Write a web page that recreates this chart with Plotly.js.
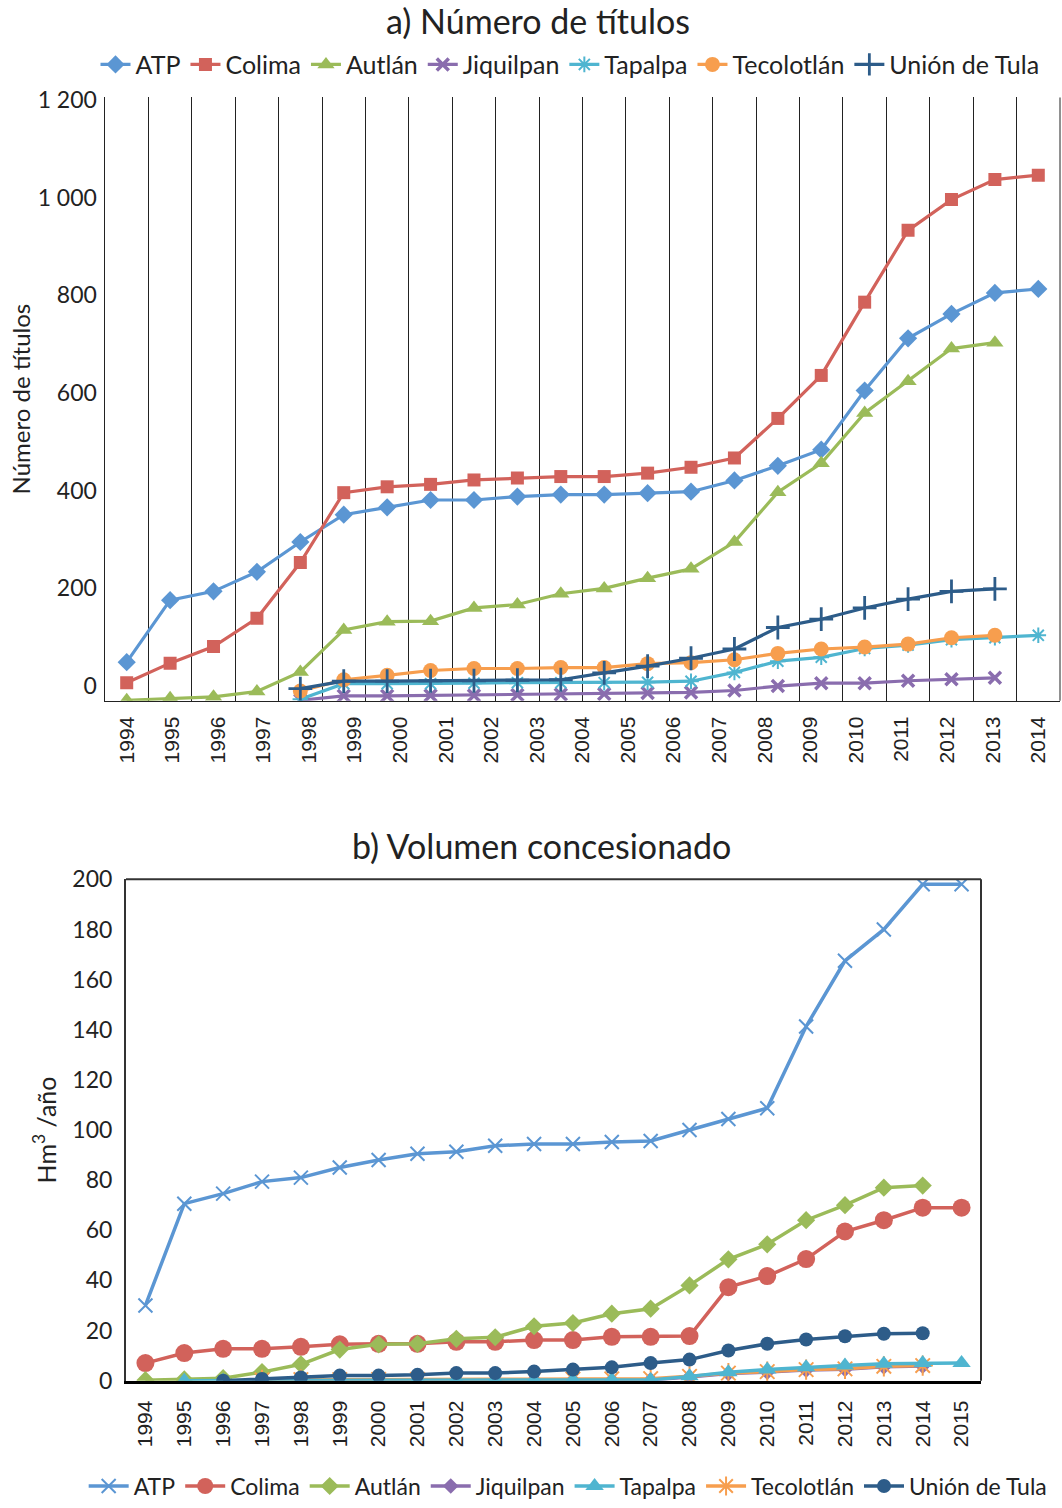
<!DOCTYPE html>
<html>
<head>
<meta charset="utf-8">
<script src="https://cdn.plot.ly/plotly-3.0.1.min.js"></script>
<style>html,body{margin:0;padding:0;background:#fff;}#chart{width:1062px;height:1508px;}</style>
</head>
<body>
<div id="chart"></div>
<script>
// ---------- data ----------
const years = [1994,1995,1996,1997,1998,1999,2000,2001,2002,2003,2004,2005,2006,2007,2008,2009,2010,2011,2012,2013,2014,2015];
const topTickLabels = ['1994','1995','1996','1997','1998','1999','2000','2001','2002','2003','2004','2005','2006','2007','2008','2009','2010','2011','2012','2013','2014'];
const bottomTickLabels = ['1994','1995','1996','1997','1998','1999','2000','2001','2002','2003','2004','2005','2006','2007','2008','2009','2010','2011','2012','2013','2014','2015'];
const seriesNames = ['ATP','Colima','Autlán','Jiquilpan','Tapalpa','Tecolotlán','Unión de Tula'];

// a) Número de títulos
const atpTitulos        = [49,176,194,234,295,351,366,381,381,388,392,392,395,398,421,451,484,605,712,762,805,813];
const colimaTitulos     = [7,47,81,139,253,396,408,413,422,426,429,429,436,448,467,548,636,786,933,996,1037,1046];
const autlanTitulos     = [-29,-25,-22,-11,29,115,132,133,160,167,189,200,221,240,295,397,456,559,624,691,703,null];
const jiquilpanTitulos  = [null,null,null,null,-29,-20,-20,-19,-19,-18,-17,-16,-14,-13,-9,0,6,6,11,14,17,null];
const tapalpaTitulos    = [null,null,null,null,-27,5,5,5,6,7,7,7,8,10,28,51,59,77,84,95,99,104];
const tecolotlanTitulos = [null,null,null,null,-10,13,22,32,36,36,38,38,46,48,54,67,76,80,86,99,104,null];
const unionTitulos      = [null,null,null,null,-5,10,10,11,11,12,13,27,41,57,76,120,137,160,178,194,199,null];

// b) Volumen concesionado (Hm3/año)
const atpVolumen        = [30,70.6,74.6,79.4,81,85,88,90.5,91.3,93.7,94.4,94.4,95.2,95.6,100,104.4,108.7,141.3,167.5,180,198,198];
const colimaVolumen     = [7,11,12.7,12.7,13.5,14.5,14.7,14.7,15.5,15.5,16.2,16.2,17.5,17.5,17.8,37.3,41.7,48.5,59.5,64,69,69];
const autlanVolumen     = [0.2,0.5,1,3.4,6.5,12.4,14.5,14.7,16.7,17.3,21.7,23,26.7,28.7,38,48.4,54.4,64,70,77,77.8,null];
const jiquilpanVolumen  = [null,null,null,null,0.1,0.1,0.1,0.1,0.2,0.2,0.2,0.2,0.2,0.3,1.5,2.8,3.4,4.2,4.5,5.5,5.8,null];
const tapalpaVolumen    = [null,0,0,0,0,0.1,0.1,0.2,0.2,0.2,0.2,0.3,0.3,0.3,1.7,3.3,4.4,5.3,6,6.7,7,7];
const tecolotlanVolumen = [null,null,null,0.3,0.4,0.4,0.5,0.5,0.6,0.6,0.6,0.6,0.7,0.8,1.7,3,3.6,4.4,4.7,5.7,6,null];
const unionVolumen      = [null,null,0,0.7,1.3,2,2,2.3,3,3,3.6,4.4,5.3,7,8.4,12,14.7,16.4,17.7,18.7,18.9,null];

// ---------- styles ----------
const colors = {
  atp:'#5B96D3', colima:'#D2625B', autlan:'#9BBB59', jiquilpan:'#8A6DAE',
  tapalpa:'#4FB5D0', tecolotlan:'#F79E4E', union:'#2D5C89'
};
const FONT = 'Lato, "Open Sans", sans-serif';
const TICKFONT = '"Liberation Sans", Arial, sans-serif';

function topTrace(name, y, color, symbol, size, mlw) {
  const open = /thin|asterisk/.test(symbol);
  return {
    type:'scatter', mode:'lines+markers', name:name, x:years, y:y,
    xaxis:'x', yaxis:'y', legend:'legend', connectgaps:false,
    line:{color:color, width:3.2},
    marker:{symbol:symbol, size:size, color:color, line:{color:color, width: open ? (mlw||2.5) : 0}}
  };
}
function botTrace(name, y, color, symbol, size, lw) {
  const open = /thin|asterisk/.test(symbol);
  return {
    type:'scatter', mode:'lines+markers', name:name, x:years, y:y,
    xaxis:'x2', yaxis:'y2', legend:'legend2', connectgaps:false,
    line:{color:color, width:lw||3.5},
    marker:{symbol:symbol, size:size, color:color, line:{color:color, width: open ? 2 : 0}}
  };
}

const traces = [
  topTrace(seriesNames[0], atpTitulos, colors.atp, 'diamond', 14),
  topTrace(seriesNames[1], colimaTitulos, colors.colima, 'square', 13),
  topTrace(seriesNames[2], autlanTitulos, colors.autlan, 'triangle-up', 15),
  topTrace(seriesNames[3], jiquilpanTitulos, colors.jiquilpan, 'x-thin', 12, 3.5),
  topTrace(seriesNames[4], tapalpaTitulos, colors.tapalpa, 'asterisk', 13, 2),
  topTrace(seriesNames[5], tecolotlanTitulos, colors.tecolotlan, 'circle', 15),
  topTrace(seriesNames[6], unionTitulos, colors.union, 'cross-thin', 17, 2.8),

  botTrace(seriesNames[3], jiquilpanVolumen, colors.jiquilpan, 'diamond', 12),
  botTrace(seriesNames[0], atpVolumen, colors.atp, 'x-thin', 14),
  botTrace(seriesNames[1], colimaVolumen, colors.colima, 'circle', 18),
  botTrace(seriesNames[2], autlanVolumen, colors.autlan, 'diamond', 14),
  botTrace(seriesNames[5], tecolotlanVolumen, colors.tecolotlan, 'asterisk', 17),
  botTrace(seriesNames[4], tapalpaVolumen, colors.tapalpa, 'triangle-up', 16),
  botTrace(seriesNames[6], unionVolumen, colors.union, 'circle', 14)
];
const legendOrder = {'ATP':1,'Colima':2,'Autlán':3,'Jiquilpan':4,'Tapalpa':5,'Tecolotlán':6,'Unión de Tula':7};
traces.forEach(t => { t.legendrank = legendOrder[t.name]; });

const W = 1062, H = 1508;
const topLabelPos = topTickLabels.map((s,k) => years[0] + k * (years.length - 1) / (topTickLabels.length - 1));

const layout = {
  width:W, height:H,
  margin:{l:0,r:0,t:0,b:0},
  paper_bgcolor:'#fff', plot_bgcolor:'rgba(0,0,0,0)',
  font:{family:FONT, color:'#222', size:20},
  showlegend:true,
  title:{text:'a) Número de títulos', x:538/W, xanchor:'center', y:1-22/H, yanchor:'middle',
         font:{family:FONT, size:34, color:'#222'}},
  xaxis:{
    domain:[105/W, 1060/W], anchor:'y',
    range:[1993.5, 2015.5], tickmode:'array', tickvals:topLabelPos, ticktext:topTickLabels,
    tickangle:-90, ticks:'', showgrid:false, zeroline:false, ticklabelstandoff:6,
    showline:true, linecolor:'#222', linewidth:1.5,
    tickfont:{family:TICKFONT, size:21, color:'#222'},
    minor:{tickmode:'linear', tick0:1993.5, dtick:1, showgrid:true, gridcolor:'#222', gridwidth:1, ticks:''},
    automargin:false, fixedrange:true
  },
  yaxis:{
    domain:[1-704.5/H, 1-98/H], anchor:'x',
    range:[-30, 1205], tickmode:'array', tickvals:[0,200,400,600,800,1000,1200],
    ticktext:['0','200','400','600','800','1 000','1 200'],
    showgrid:false, zeroline:false, showline:true, linecolor:'#222', linewidth:1.5,
    ticks:'', ticklabelstandoff:2,
    tickfont:{family:FONT, size:23, color:'#222'},
    title:{text:'Número de títulos', font:{family:FONT, size:24, color:'#222'}, standoff:0},
    automargin:false, fixedrange:true
  },
  xaxis2:{
    domain:[126/W, 981/W], anchor:'y2',
    range:[1993.5, 2015.5], tickmode:'array', tickvals:years, ticktext:bottomTickLabels,
    tickangle:-90, ticks:'', showgrid:false, zeroline:false, ticklabelstandoff:8,
    showline:true, linecolor:'#000', linewidth:3.5,
    tickfont:{family:TICKFONT, size:21, color:'#222'},
    automargin:false, fixedrange:true
  },
  yaxis2:{
    domain:[1-1388/H, 1-884/H], anchor:'x2',
    range:[0, 200], tickmode:'array', tickvals:[0,20,40,60,80,100,120,140,160,180,200],
    showgrid:false, zeroline:false, showline:true, linecolor:'#333', linewidth:2,
    ticks:'', ticklabelstandoff:7,
    tickfont:{family:FONT, size:23, color:'#222'},
    title:{text:'Hm<sup>3</sup> /año', font:{family:FONT, size:25, color:'#222'}, standoff:9},
    automargin:false, fixedrange:true
  },
  shapes:[
    {type:'line', xref:'x domain', yref:'y domain', x0:1, x1:1, y0:0, y1:1, line:{color:'#222', width:1}},
    {type:'line', xref:'x2 domain', yref:'y2 domain', x0:0, x1:1, y0:1, y1:1, line:{color:'#333', width:2}},
    {type:'line', xref:'x2 domain', yref:'y2 domain', x0:1, x1:1, y0:0, y1:1, line:{color:'#333', width:2}}
  ],
  annotations:[
    {text:'b) Volumen concesionado', xref:'paper', yref:'paper', x:541/W, y:1-850/H,
     xanchor:'center', yanchor:'middle', showarrow:false, font:{family:FONT, size:34, color:'#222'}}
  ],
  legend:{orientation:'h', x:570/W, xanchor:'center', y:1-65/H, yanchor:'middle',
          font:{family:FONT, size:25, color:'#222'}, itemwidth:30, tracegroupgap:0,
          bgcolor:'rgba(0,0,0,0)', traceorder:'normal'},
  legend2:{orientation:'h', x:0.535, xanchor:'center', y:1-1494/H, yanchor:'middle',
          font:{family:FONT, size:23, color:'#222'}, itemwidth:40, tracegroupgap:0,
          bgcolor:'rgba(0,0,0,0)', traceorder:'normal'}
};

Plotly.newPlot('chart', traces, layout, {staticPlot:true, displayModeBar:false});
</script>
</body>
</html>
